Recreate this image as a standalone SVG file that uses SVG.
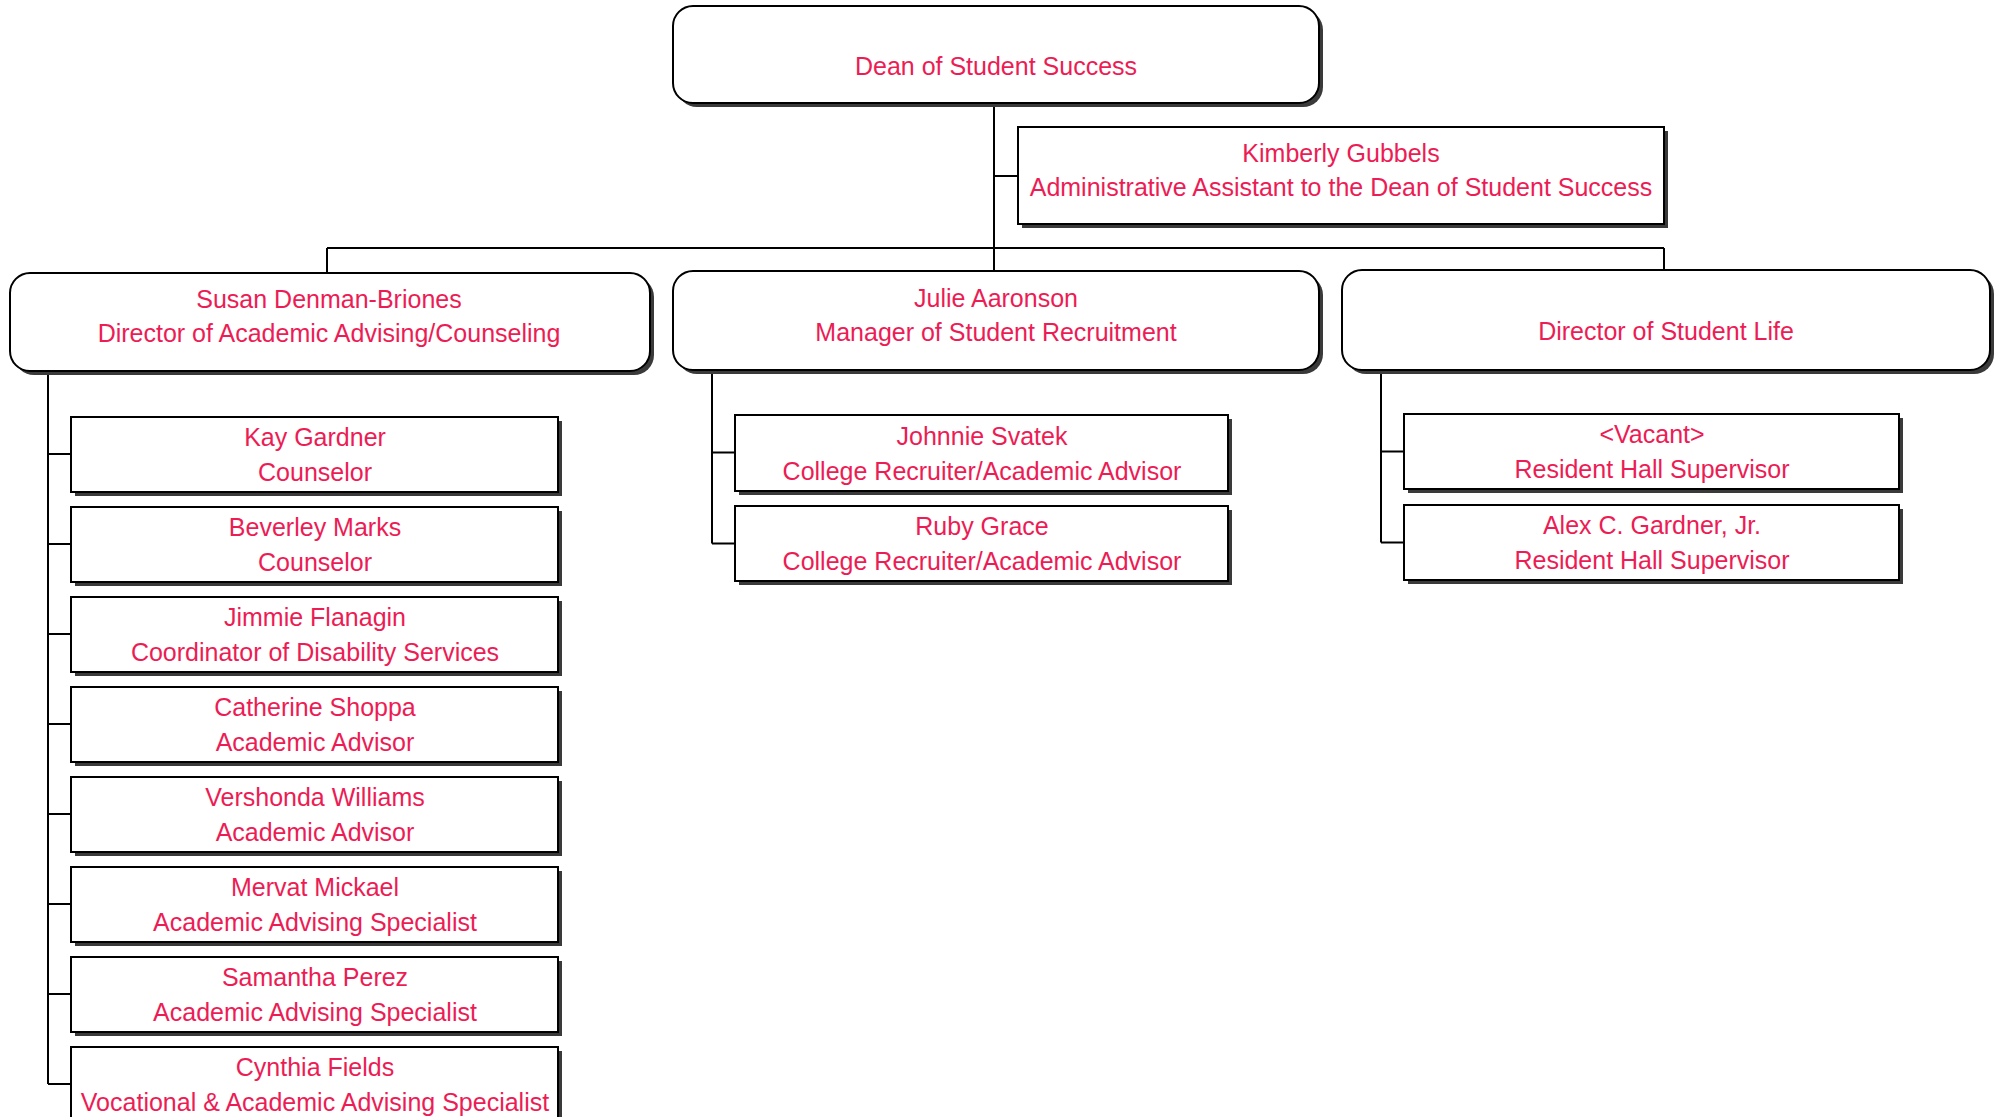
<svg xmlns="http://www.w3.org/2000/svg" width="1998" height="1117" viewBox="0 0 1998 1117">
<style>
.sh{fill:#3a3a3a;stroke:none}
.bx{fill:#fff;stroke:#000;stroke-width:2}
.t{font-family:"Liberation Sans",Arial,sans-serif;font-size:25px;fill:#EC1C55;text-anchor:middle}
.c{stroke:#000;stroke-width:2;fill:none}
</style>
<rect width="1998" height="1117" fill="#fff"/>
<g id="connectors">
<path class="c" d="M994 103V271M994 176H1018M327 248H1664M327 248V273M1664 248V270"/>
<path class="c" d="M48 371V1084M48 454H71M48 544H71M48 634H71M48 724H71M48 814H71M48 904H71M48 994H71M48 1084H71"/>
<path class="c" d="M712 370V543.5M712 452.5H735M712 543.5H735"/>
<path class="c" d="M1381 370V542.5M1381 451.5H1404M1381 542.5H1404"/>
</g>
<g id="dean">
<rect class="sh" x="677" y="10" width="646" height="97" rx="20"/>
<rect class="bx" x="673" y="6" width="646" height="97" rx="20"/>
<text class="t" x="996" y="75">Dean of Student Success</text>
</g>
<g id="kimberly">
<rect class="sh" x="1022" y="131" width="646" height="97"/>
<rect class="bx" x="1018" y="127" width="646" height="97"/>
<text class="t" x="1341" y="162">Kimberly Gubbels</text>
<text class="t" x="1341" y="196">Administrative Assistant to the Dean of Student Success</text>
</g>
<g id="susan">
<rect class="sh" x="14" y="277" width="640" height="98" rx="20"/>
<rect class="bx" x="10" y="273" width="640" height="98" rx="20"/>
<text class="t" x="329" y="308">Susan Denman-Briones</text>
<text class="t" x="329" y="342">Director of Academic Advising/Counseling</text>
</g>
<g id="julie">
<rect class="sh" x="677" y="275" width="646" height="99" rx="20"/>
<rect class="bx" x="673" y="271" width="646" height="99" rx="20"/>
<text class="t" x="996" y="307">Julie Aaronson</text>
<text class="t" x="996" y="341">Manager of Student Recruitment</text>
</g>
<g id="studentlife">
<rect class="sh" x="1346" y="274" width="648" height="100" rx="20"/>
<rect class="bx" x="1342" y="270" width="648" height="100" rx="20"/>
<text class="t" x="1666" y="340">Director of Student Life</text>
</g>
<g id="kay">
<rect class="sh" x="75" y="421" width="487" height="75"/>
<rect class="bx" x="71" y="417" width="487" height="75"/>
<text class="t" x="315" y="446">Kay Gardner</text>
<text class="t" x="315" y="481">Counselor</text>
</g>
<g id="beverley">
<rect class="sh" x="75" y="511" width="487" height="75"/>
<rect class="bx" x="71" y="507" width="487" height="75"/>
<text class="t" x="315" y="536">Beverley Marks</text>
<text class="t" x="315" y="571">Counselor</text>
</g>
<g id="jimmie">
<rect class="sh" x="75" y="601" width="487" height="75"/>
<rect class="bx" x="71" y="597" width="487" height="75"/>
<text class="t" x="315" y="626">Jimmie Flanagin</text>
<text class="t" x="315" y="661">Coordinator of Disability Services</text>
</g>
<g id="catherine">
<rect class="sh" x="75" y="691" width="487" height="75"/>
<rect class="bx" x="71" y="687" width="487" height="75"/>
<text class="t" x="315" y="716">Catherine Shoppa</text>
<text class="t" x="315" y="751">Academic Advisor</text>
</g>
<g id="vershonda">
<rect class="sh" x="75" y="781" width="487" height="75"/>
<rect class="bx" x="71" y="777" width="487" height="75"/>
<text class="t" x="315" y="806">Vershonda Williams</text>
<text class="t" x="315" y="841">Academic Advisor</text>
</g>
<g id="mervat">
<rect class="sh" x="75" y="871" width="487" height="75"/>
<rect class="bx" x="71" y="867" width="487" height="75"/>
<text class="t" x="315" y="896">Mervat Mickael</text>
<text class="t" x="315" y="931">Academic Advising Specialist</text>
</g>
<g id="samantha">
<rect class="sh" x="75" y="961" width="487" height="75"/>
<rect class="bx" x="71" y="957" width="487" height="75"/>
<text class="t" x="315" y="986">Samantha Perez</text>
<text class="t" x="315" y="1021">Academic Advising Specialist</text>
</g>
<g id="cynthia">
<rect class="sh" x="75" y="1051" width="487" height="75"/>
<rect class="bx" x="71" y="1047" width="487" height="75"/>
<text class="t" x="315" y="1076">Cynthia Fields</text>
<text class="t" x="315" y="1111">Vocational &amp; Academic Advising Specialist</text>
</g>
<g id="johnnie">
<rect class="sh" x="739" y="419" width="493" height="76"/>
<rect class="bx" x="735" y="415" width="493" height="76"/>
<text class="t" x="982" y="445">Johnnie Svatek</text>
<text class="t" x="982" y="480">College Recruiter/Academic Advisor</text>
</g>
<g id="ruby">
<rect class="sh" x="739" y="510" width="493" height="75"/>
<rect class="bx" x="735" y="506" width="493" height="75"/>
<text class="t" x="982" y="535">Ruby Grace</text>
<text class="t" x="982" y="570">College Recruiter/Academic Advisor</text>
</g>
<g id="vacant">
<rect class="sh" x="1408" y="418" width="495" height="75"/>
<rect class="bx" x="1404" y="414" width="495" height="75"/>
<text class="t" x="1652" y="443">&lt;Vacant&gt;</text>
<text class="t" x="1652" y="478">Resident Hall Supervisor</text>
</g>
<g id="alex">
<rect class="sh" x="1408" y="509" width="495" height="75"/>
<rect class="bx" x="1404" y="505" width="495" height="75"/>
<text class="t" x="1652" y="534">Alex C. Gardner, Jr.</text>
<text class="t" x="1652" y="569">Resident Hall Supervisor</text>
</g>
</svg>
